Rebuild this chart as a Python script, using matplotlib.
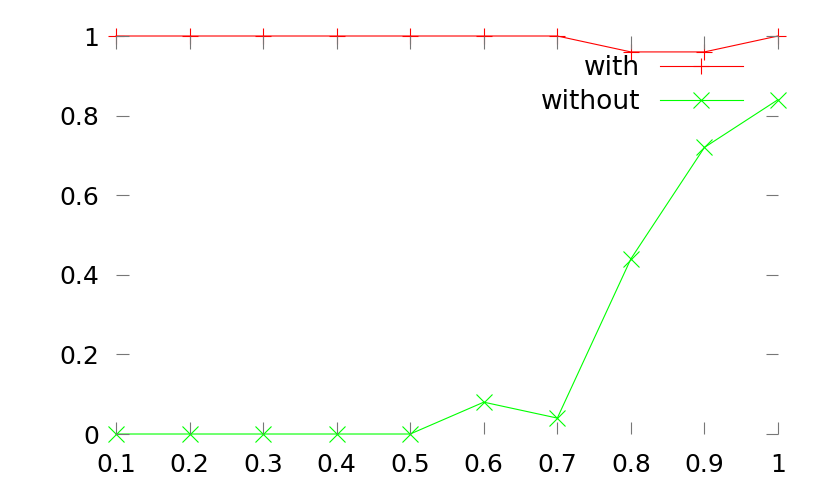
import matplotlib.pyplot as plt

x = [0.1, 0.2, 0.3, 0.4, 0.5, 0.6, 0.7, 0.8, 0.9, 1.0]
with_vals = [1, 1, 1, 1, 1, 1, 1, 0.96, 0.96, 1]
without_vals = [0, 0, 0, 0, 0, 0.08, 0.04, 0.44, 0.72, 0.84]

xticks = [0.1, 0.2, 0.3, 0.4, 0.5, 0.6, 0.7, 0.8, 0.9, 1.0]
xtick_labels = ['0.1', '0.2', '0.3', '0.4', '0.5', '0.6', '0.7', '0.8', '0.9', '1']
yticks = [0, 0.2, 0.4, 0.6, 0.8, 1.0]
ytick_labels = ['0', '0.2', '0.4', '0.6', '0.8', '1']

fig = plt.figure(figsize=(8.3, 4.98), dpi=100)
ax = fig.add_axes([0.1398, 0.1285, 0.7975, 0.7992])

ax.plot(x, with_vals, color='#ff0000', lw=0.8, marker='+', ms=12, mew=0.8,
        label='with', clip_on=False, zorder=1)
ax.plot(x, without_vals, color='#00ff00', lw=0.8, marker='x', ms=11, mew=0.8,
        label='without', clip_on=False, zorder=1)

ax.set_xlim(0.1, 1.0)
ax.set_ylim(0, 1.0)
ax.set_xticks(xticks)
ax.set_xticklabels(xtick_labels)
ax.set_yticks(yticks)
ax.set_yticklabels(ytick_labels)

for s in ax.spines.values():
    s.set_visible(False)
ax.tick_params(direction='in', top=True, right=True, length=9, width=0.8,
               color='#777777', labelsize=18)
ax.tick_params(axis='x', pad=14)
ax.tick_params(axis='y', pad=12)

ax.legend(loc='upper right', bbox_to_anchor=(0.895, 0.89), bbox_transform=fig.transFigure,
          frameon=False, markerfirst=False, fontsize=19, handlelength=3.15,
          handletextpad=0.75, labelspacing=0.32, borderaxespad=0, borderpad=0)

fig.savefig('out.png', dpi=100)
